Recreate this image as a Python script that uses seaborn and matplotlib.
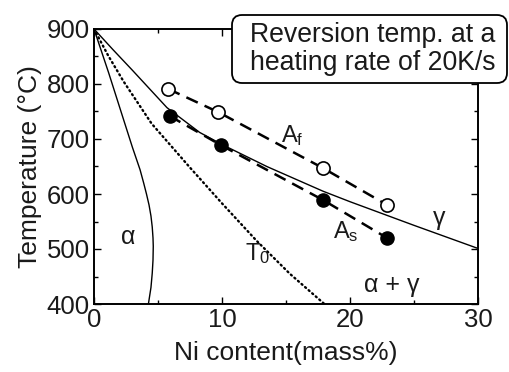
import matplotlib
matplotlib.use("Agg")
import matplotlib.pyplot as plt
import seaborn as sns
import pandas as pd
from matplotlib.ticker import MultipleLocator
from matplotlib.patches import FancyBboxPatch
from matplotlib.transforms import IdentityTransform

# ---- data ----
alpha_ni = [0, 1.15, 2.3, 3.0, 3.6, 3.88, 4.1, 4.3, 4.45, 4.55, 4.61, 4.63, 4.61, 4.55, 4.45, 4.25]
alpha_t = [900, 820, 736, 685, 644, 620, 600, 580, 560, 540, 520, 505, 480, 456, 430, 400]

t0_ni = [0, 1.1, 2.3, 4.5, 7.5, 10.0, 12.7, 15.3, 18.0]
t0_t = [900, 852, 805, 728, 648, 583, 515, 455, 400]

gamma_ni = [0, 1.5, 3.0, 5.7, 8.25, 10.0, 13.5, 17.9, 20.0, 25.0, 30.0]
gamma_t = [900, 862, 825, 757, 712, 690, 650, 605, 586, 543, 501]

af_ni = [5.8, 9.7, 17.9, 22.9]
af_t = [791, 749, 647, 580]

as_ni = [5.9, 9.9, 17.9, 22.9]
as_t = [742, 689, 589, 520]

x_ticks = [0, 10, 20, 30]
y_ticks = [400, 500, 600, 700, 800, 900]

sns.set_theme(style="ticks")
plt.rcParams["font.family"] = ["Liberation Sans", "DejaVu Sans"]
plt.rcParams["mathtext.default"] = "regular"

fig = plt.figure(figsize=(5.09, 3.72), dpi=100)
ax = fig.add_axes([94 / 509, 1 - 304 / 372, (478 - 94) / 509, (304 - 29) / 372])

df_alpha = pd.DataFrame({"ni": alpha_ni, "t": alpha_t})
df_t0 = pd.DataFrame({"ni": t0_ni, "t": t0_t})
df_gamma = pd.DataFrame({"ni": gamma_ni, "t": gamma_t})
df_af = pd.DataFrame({"ni": af_ni, "t": af_t})
df_as = pd.DataFrame({"ni": as_ni, "t": as_t})

sns.lineplot(data=df_alpha, x="ni", y="t", sort=False, estimator=None,
             color="black", lw=1.0, ax=ax)
sns.lineplot(data=df_gamma, x="ni", y="t", sort=False, estimator=None,
             color="black", lw=1.0, ax=ax)
sns.lineplot(data=df_t0, x="ni", y="t", sort=False, estimator=None,
             color="black", lw=1.7, linestyle=(0, (0.5, 1.5)),
             dash_capstyle="round", ax=ax)
sns.lineplot(data=df_af, x="ni", y="t", sort=False, estimator=None,
             color="black", lw=1.8, linestyle=(0, (5, 3)), ax=ax)
sns.lineplot(data=df_as, x="ni", y="t", sort=False, estimator=None,
             color="black", lw=1.8, linestyle=(0, (5, 3)), ax=ax)
sns.scatterplot(data=df_af, x="ni", y="t", s=90, facecolor="white",
                edgecolor="black", linewidth=1.2, zorder=5, ax=ax)
sns.scatterplot(data=df_as, x="ni", y="t", s=90, color="black",
                edgecolor="black", linewidth=1.0, zorder=5, ax=ax)

ax.set_xlim(0, 30)
ax.set_ylim(400, 900)
ax.set_xticks(x_ticks)
ax.set_yticks(y_ticks)
ax.xaxis.set_minor_locator(MultipleLocator(5))
ax.yaxis.set_minor_locator(MultipleLocator(50))
ax.tick_params(which="both", direction="in", top=True, right=True,
               width=1.0, color="black", labelsize=18.5, pad=3,
               labelcolor="#1a1a1a")
ax.tick_params(which="major", length=5)
ax.tick_params(which="minor", length=3)
for sp in ax.spines.values():
    sp.set_linewidth(1.4)
    sp.set_color("black")

ax.set_xlabel("Ni content(mass%)", fontsize=19, labelpad=6.5, color="#1a1a1a")
ax.set_ylabel("Temperature (°C)", fontsize=19, labelpad=3.5, color="#1a1a1a")

lab_kw = dict(color="#1a1a1a")
ax.text(2.65, 521, "α", fontsize=18, ha="center", va="center", **lab_kw)
ax.text(11.8, 480, "T$_0$", fontsize=17, ha="left", va="baseline", **lab_kw)
ax.text(14.6, 695, "A$_f$", fontsize=17, ha="left", va="baseline", **lab_kw)
ax.text(18.65, 519, "A$_s$", fontsize=17, ha="left", va="baseline", **lab_kw)
ax.text(27.0, 557, "γ", fontsize=18, ha="center", va="center", **lab_kw)
ax.text(23.3, 434, "α + γ", fontsize=18, ha="center", va="center", **lab_kw)

box = FancyBboxPatch((232, 372 - 83), 275, 68,
                     boxstyle="round,pad=0,rounding_size=10",
                     transform=IdentityTransform(), fc="white", ec="black",
                     lw=1.3, zorder=5)
fig.add_artist(box)
fig.text(372.5 / 509, 1 - 49 / 372, "Reversion temp. at a\nheating rate of 20K/s",
         ha="center", va="center", fontsize=19.2, linespacing=1.1,
         zorder=6, color="#1a1a1a")

fig.savefig("out.png", dpi=100)
